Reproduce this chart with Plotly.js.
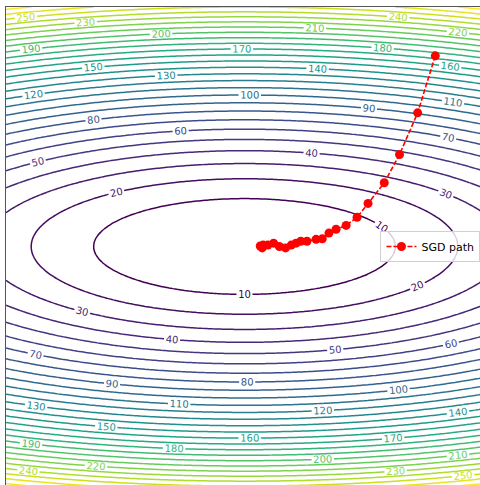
<!DOCTYPE html>
<html>
<head>
<meta charset="utf-8">
<script src="https://cdn.plot.ly/plotly-3.0.1.min.js"></script>
<style>
html, body { margin: 0; padding: 0; overflow: hidden; background: #fff; }
#chart { width: 483px; height: 486px; }
</style>
</head>
<body>
<div id="chart"></div>
<script>
// Loss surface f(x, y) = coefX * x^2 + coefY * y^2 over [-5, 5] x [-5, 5]
const coefX = 1;
const coefY = 10;
const gridMin = -5, gridMax = 5, gridN = 121;

// Contour levels
const levelStart = 10, levelEnd = 270, levelStep = 10;

// SGD path
const pathX = [4.00, 3.63, 3.25, 2.93, 2.59, 2.36, 2.13, 1.92, 1.77, 1.63, 1.50, 1.31, 1.18, 1.08, 0.98, 0.86, 0.73, 0.61, 0.49, 0.39, 0.37, 0.33];
const pathY = [3.98, 2.79, 1.92, 1.33, 0.90, 0.61, 0.44, 0.36, 0.28, 0.16, 0.15, 0.11, 0.11, 0.07, 0.03, -0.03, 0.00, 0.07, 0.03, 0.03, -0.03, 0.01];

const gx = [], gy = [];
for (let i = 0; i < gridN; i++) {
  const v = gridMin + (gridMax - gridMin) * i / (gridN - 1);
  gx.push(v); gy.push(v);
}
const gz = gy.map(y => gx.map(x => coefX * x * x + coefY * y * y));

const contour = {
  type: 'contour',
  x: gx, y: gy, z: gz,
  colorscale: 'Viridis',
  zmin: levelStart, zmax: levelEnd,
  showscale: false,
  autocontour: false,
  contours: {
    start: levelStart, end: levelEnd, size: levelStep,
    coloring: 'lines',
    showlabels: true,
    labelfont: { family: 'DejaVu Sans', size: 10 }
  },
  line: { width: 1.5, smoothing: 1 },
  hoverinfo: 'skip',
  showlegend: false
};

const path = {
  type: 'scatter',
  mode: 'lines+markers',
  x: pathX, y: pathY,
  name: 'SGD path',
  line: { color: '#ff0000', width: 1.6, dash: '5px,2px' },
  marker: { color: '#ff0000', size: 9 }
};

const layout = {
  width: 483, height: 486,
  margin: { l: 6, r: 0, t: 7, b: 0, pad: 0, autoexpand: false },
  paper_bgcolor: '#ffffff',
  plot_bgcolor: '#ffffff',
  font: { family: 'DejaVu Sans', size: 11, color: '#000' },
  xaxis: {
    range: [gridMin, gridMax], showgrid: false, zeroline: false,
    showticklabels: false, ticks: '', showline: true, mirror: true,
    linecolor: '#555', linewidth: 1
  },
  yaxis: {
    range: [gridMin, gridMax], showgrid: false, zeroline: false,
    showticklabels: false, ticks: '', showline: true, mirror: true,
    linecolor: '#555', linewidth: 1
  },
  showlegend: true,
  legend: {
    x: 0.785, y: 0.5, xanchor: 'left', yanchor: 'middle',
    bgcolor: 'rgba(255,255,255,0.8)', bordercolor: '#d0d0d0', borderwidth: 1,
    font: { family: 'DejaVu Sans', size: 11, color: '#000' },
    itemwidth: 30
  }
};

Plotly.newPlot('chart', [contour, path], layout, { staticPlot: true, displayModeBar: false });
</script>
</body>
</html>
